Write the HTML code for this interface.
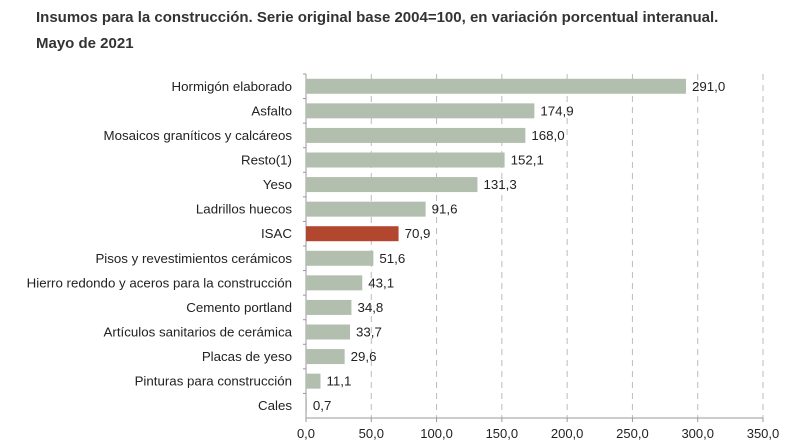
<!DOCTYPE html>
<html><head><meta charset="utf-8"><style>
body{margin:0;background:#fff;font-family:"Liberation Sans",sans-serif;}
#wrap{position:relative;width:800px;height:448px;overflow:hidden}
.title{position:absolute;left:36px;font-weight:bold;font-size:15px;color:#333;white-space:nowrap}
</style></head><body>
<div id="wrap">
<div class="title" style="top:9px">Insumos para la construcción. Serie original base 2004=100, en variación porcentual interanual.</div>
<div class="title" style="top:35px">Mayo de 2021</div>
<svg id="svg" width="800" height="448" style="position:absolute;left:0;top:0"></svg>
</div>
<script>
const categories=["Hormigón elaborado","Asfalto","Mosaicos graníticos y calcáreos","Resto(1)","Yeso","Ladrillos huecos","ISAC","Pisos y revestimientos cerámicos","Hierro redondo y aceros para la construcción","Cemento portland","Artículos sanitarios de cerámica","Placas de yeso","Pinturas para construcción","Cales"];
const values=[291.0,174.9,168.0,152.1,131.3,91.6,70.9,51.6,43.1,34.8,33.7,29.6,11.1,0.7];
const highlight=["ISAC"];
const ticks=[0,50,100,150,200,250,300,350];
const tickLabels=["0,0","50,0","100,0","150,0","200,0","250,0","300,0","350,0"];
const NS="http://www.w3.org/2000/svg";
const svg=document.getElementById('svg');
const x0=306,x1=763,vmax=350,plotTop=74,plotBottom=418;
const xs=v=>x0+(v/vmax)*(x1-x0);
const band=(plotBottom-plotTop)/categories.length;
const ys=i=>plotTop+band*i+band/2;
function mk(t,a){const e=document.createElementNS(NS,t);for(const k in a)e.setAttribute(k,a[k]);svg.appendChild(e);return e;}
ticks.forEach((t,i)=>{
 if(t>0){const g=mk('line',{x1:xs(t),x2:xs(t),y1:plotTop,y2:plotBottom,stroke:'#bbb','stroke-dasharray':'6,5','stroke-width':1});
 
 }
 const tk=mk('line',{x1:xs(t),x2:xs(t),y1:plotBottom,y2:plotBottom+4,stroke:'#999'});
 
 
 const l=mk('text',{x:xs(t),y:plotBottom+20,'text-anchor':'middle','font-size':13,fill:'#222','font-family':'Liberation Sans'});
 l.textContent=tickLabels[i];
 
 
});
const ax=mk('line',{x1:x0,x2:x1,y1:plotBottom,y2:plotBottom,stroke:'#999'});


const ay=mk('line',{x1:x0,x2:x0,y1:plotTop,y2:plotBottom,stroke:'#999'});


categories.forEach((c,i)=>{
 const cy=ys(i);
 const tk=mk('line',{x1:x0-3,x2:x0,y1:plotTop+band*i,y2:plotTop+band*i,stroke:'#999'});
 
 
 const b=mk('rect',{x:x0,y:cy-7.5,width:Math.max(0,xs(values[i])-x0),height:15,fill:highlight.includes(c)?'#b3462f':'#b2bfae'});
 
 
 const l=mk('text',{x:x0-14,y:cy+4.5,'text-anchor':'end','font-size':13.3,fill:'#222','font-family':'Liberation Sans'});
 l.textContent=c;
 
 
 const v=mk('text',{x:xs(values[i])+6,y:cy+4.5,'font-size':13.3,fill:'#222','font-family':'Liberation Sans'});
 v.textContent=values[i].toFixed(1).replace('.',',');
 
 
});
</script>
</body></html>
